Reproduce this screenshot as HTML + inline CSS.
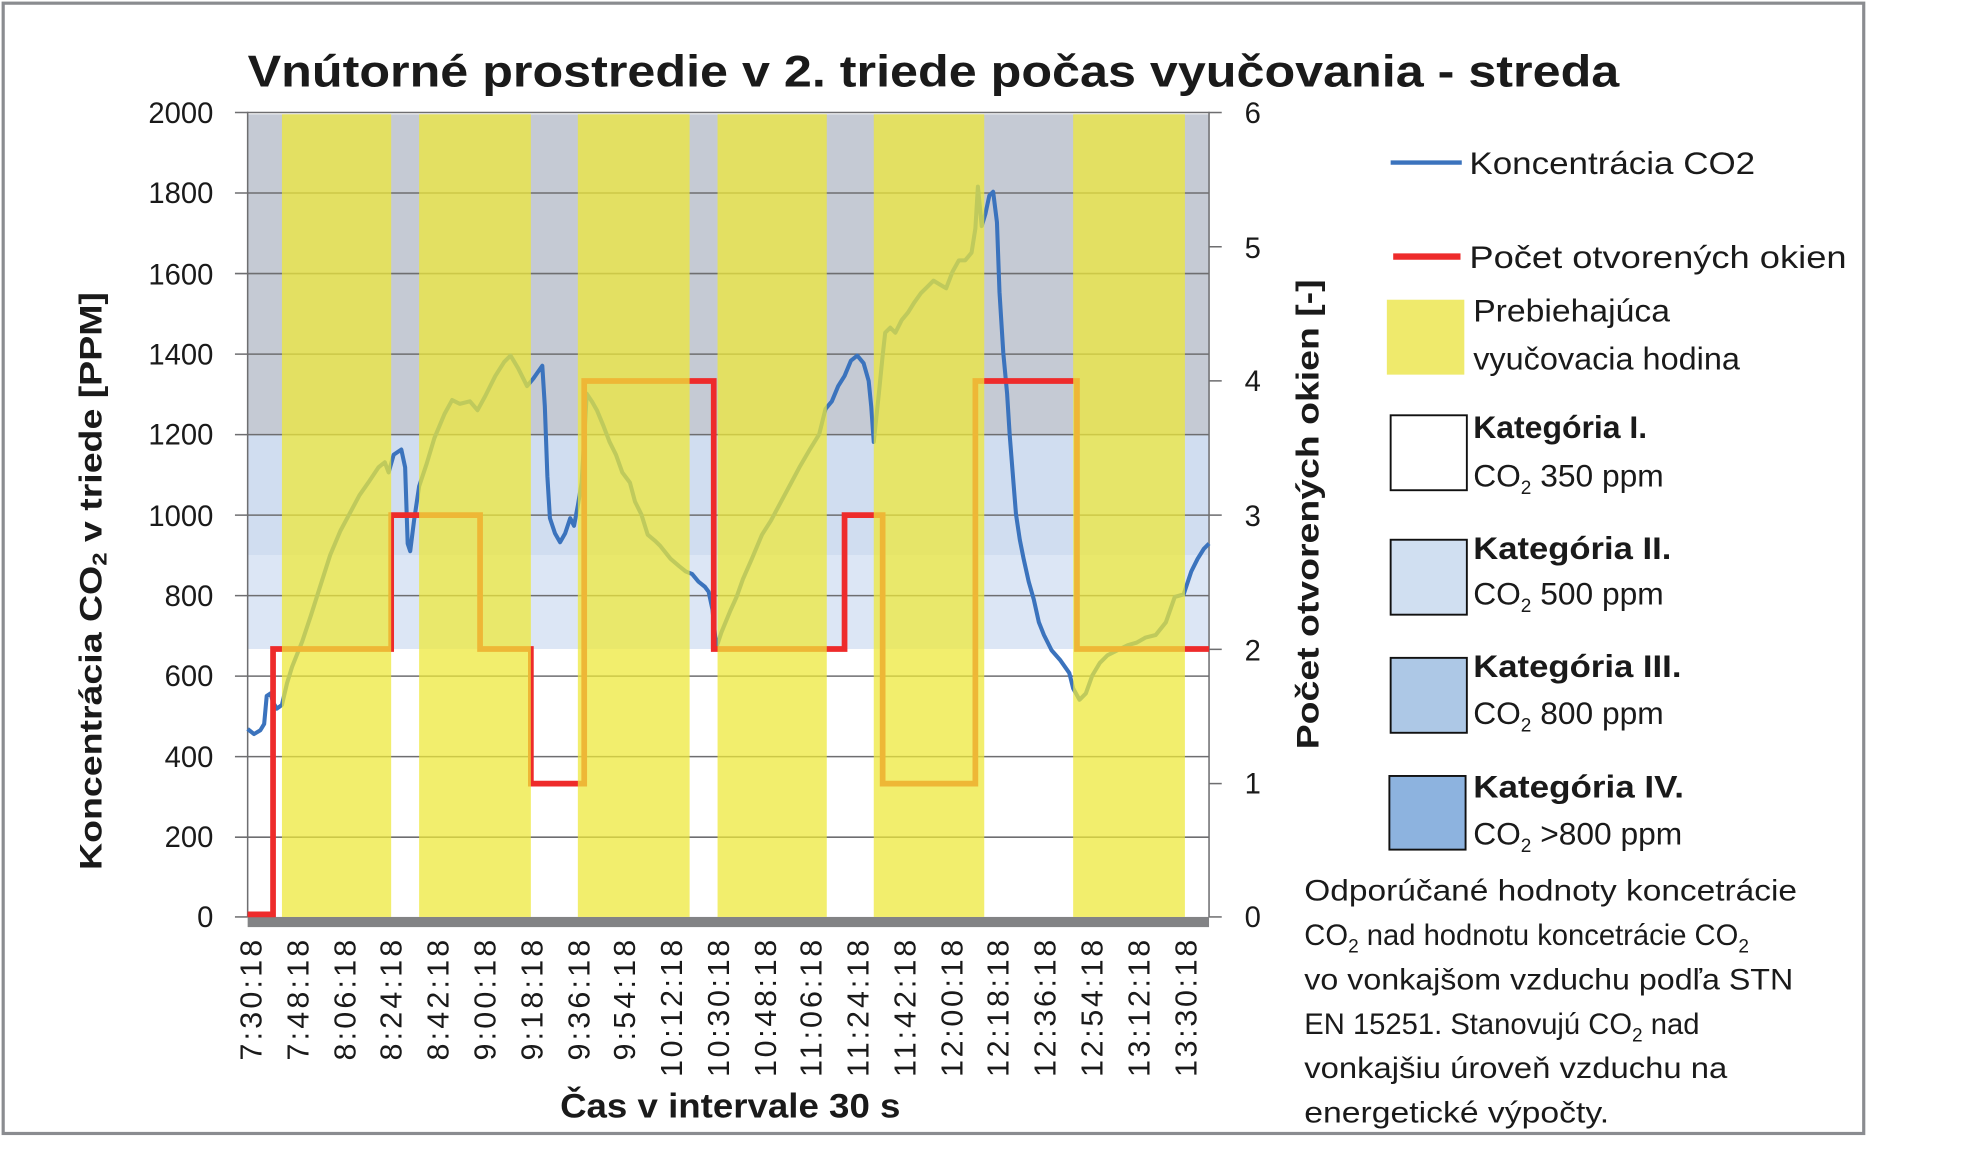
<!DOCTYPE html>
<html><head><meta charset="utf-8"><style>
html,body{margin:0;padding:0;background:#fff;}
svg{display:block;}
text{font-family:"Liberation Sans",sans-serif;fill:#1a1a1a;}
</style></head><body>
<svg width="1988" height="1163" viewBox="0 0 1565.35 915.75" xmlns="http://www.w3.org/2000/svg">
<rect x="2.5" y="2.5" width="1465" height="890" fill="#fff" stroke="#8a8c90" stroke-width="2.5"/>
<text x="735" y="68" font-size="35" font-weight="bold" text-anchor="middle" textLength="1080" lengthAdjust="spacingAndGlyphs">Vnútorné prostredie v 2. triede počas vyučovania - streda</text>
<rect x="195" y="90" width="757" height="252" fill="#c5cad4"/>
<rect x="195" y="342" width="757" height="95" fill="#d0ddf0"/>
<rect x="195" y="437" width="757" height="74" fill="#dce6f5"/>
<g stroke="#6e6e70" stroke-width="1.2">
<line x1="185" y1="88.6" x2="952" y2="88.6"/>
<line x1="185" y1="152" x2="952" y2="152"/>
<line x1="185" y1="215.4" x2="952" y2="215.4"/>
<line x1="185" y1="278.8" x2="952" y2="278.8"/>
<line x1="185" y1="342.2" x2="952" y2="342.2"/>
<line x1="185" y1="405.6" x2="952" y2="405.6"/>
<line x1="185" y1="469" x2="952" y2="469"/>
<line x1="185" y1="532.4" x2="952" y2="532.4"/>
<line x1="185" y1="595.8" x2="952" y2="595.8"/>
<line x1="185" y1="659.2" x2="952" y2="659.2"/>
<line x1="185" y1="722" x2="195" y2="722"/>
<line x1="195" y1="88" x2="195" y2="722"/>
<line x1="952" y1="88" x2="952" y2="722"/>
<line x1="952" y1="88.6" x2="962" y2="88.6"/>
<line x1="952" y1="194.3" x2="962" y2="194.3"/>
<line x1="952" y1="299.9" x2="962" y2="299.9"/>
<line x1="952" y1="405.6" x2="962" y2="405.6"/>
<line x1="952" y1="511.3" x2="962" y2="511.3"/>
<line x1="952" y1="617" x2="962" y2="617"/>
<line x1="952" y1="722" x2="962" y2="722"/>
</g>
<rect x="195" y="722" width="757" height="8" fill="#828385"/>
<polyline fill="none" stroke="#3b73bd" stroke-width="3.2" stroke-linejoin="round" points="195,574 200,578 205,575 208,570 210,548 213,546 215,553 218,558 222,555 226,538 230,525 238,505 245,484 252,462 260,437 268,418 275,405 283,390 290,380 298,368 303,364 306,372 310,358 316,354 319,368 321,428 323,434 326,410 330,383 336,365 342,345 350,326 356,315 362,318 370,316 376,323 382,312 390,296 397,285 402,280 408,290 415,304 420,298 427,288 429,320 431,375 433,408 437,420 441,427 445,420 449,408 452,414 455,398 458,380 462,310 466,316 470,323 475,335 480,348 485,358 490,372 496,380 500,395 505,405 510,421 516,426 520,430 528,440 535,446 540,450 545,452 550,458 555,462 558,466 561,480 564,510 568,498 575,481 580,470 585,456 592,440 600,421 607,410 615,395 622,382 630,367 637,355 645,342 650,322 655,316 660,304 665,296 670,284 675,280 680,286 684,300 686,320 688,348 692,310 695,280 697,262 701,258 705,262 710,252 715,246 720,238 725,231 730,226 735,221 740,224 745,227 750,214 755,205 760,205 765,199 768,180 770,147 773,178 776,168 779,154 782,151 785,175 787,230 790,278 793,310 795,342 798,380 800,405 803,425 806,440 810,458 814,472 818,490 822,500 828,512 835,520 842,530 845,542 850,551 855,546 860,532 866,522 872,516 880,512 888,508 895,506 902,502 910,500 918,490 925,470 932,468 938,450 943,440 948,432 952,428"/>
<polyline fill="none" stroke="#ee2b2b" stroke-width="4.5" stroke-linejoin="miter" points="195,720 215,720 215,511 308,511 308,405.6 378,405.6 378,511 418,511 418,617 460,617 460,300 562,300 562,511 665,511 665,405.6 695,405.6 695,617 768,617 768,300 848,300 848,511 952,511"/>
<g fill="#eee83a" fill-opacity="0.74">
<rect x="222" y="90" width="86" height="632"/>
<rect x="330" y="90" width="88" height="632"/>
<rect x="455" y="90" width="88" height="632"/>
<rect x="565" y="90" width="86" height="632"/>
<rect x="688" y="90" width="87" height="632"/>
<rect x="845" y="90" width="88" height="632"/>
</g>
<g font-size="23" text-anchor="end">
<text x="168" y="97">2000</text>
<text x="168" y="160">1800</text>
<text x="168" y="224">1600</text>
<text x="168" y="287">1400</text>
<text x="168" y="350">1200</text>
<text x="168" y="414">1000</text>
<text x="168" y="477">800</text>
<text x="168" y="540">600</text>
<text x="168" y="604">400</text>
<text x="168" y="667">200</text>
<text x="168" y="730">0</text>
</g>
<g font-size="23">
<text x="980" y="97">6</text>
<text x="980" y="203">5</text>
<text x="980" y="308">4</text>
<text x="980" y="414">3</text>
<text x="980" y="520">2</text>
<text x="980" y="625">1</text>
<text x="980" y="730">0</text>
</g>
<g font-size="24" text-anchor="end" lengthAdjust="spacingAndGlyphs">
<text transform="translate(206,740) rotate(-90)" textLength="95">7:30:18</text>
<text transform="translate(243,740) rotate(-90)" textLength="95">7:48:18</text>
<text transform="translate(280,740) rotate(-90)" textLength="95">8:06:18</text>
<text transform="translate(316,740) rotate(-90)" textLength="95">8:24:18</text>
<text transform="translate(353,740) rotate(-90)" textLength="95">8:42:18</text>
<text transform="translate(390,740) rotate(-90)" textLength="95">9:00:18</text>
<text transform="translate(427,740) rotate(-90)" textLength="95">9:18:18</text>
<text transform="translate(464,740) rotate(-90)" textLength="95">9:36:18</text>
<text transform="translate(500,740) rotate(-90)" textLength="95">9:54:18</text>
<text transform="translate(537,740) rotate(-90)" textLength="108">10:12:18</text>
<text transform="translate(574,740) rotate(-90)" textLength="108">10:30:18</text>
<text transform="translate(611,740) rotate(-90)" textLength="108">10:48:18</text>
<text transform="translate(647,740) rotate(-90)" textLength="108">11:06:18</text>
<text transform="translate(684,740) rotate(-90)" textLength="108">11:24:18</text>
<text transform="translate(721,740) rotate(-90)" textLength="108">11:42:18</text>
<text transform="translate(758,740) rotate(-90)" textLength="108">12:00:18</text>
<text transform="translate(794,740) rotate(-90)" textLength="108">12:18:18</text>
<text transform="translate(831,740) rotate(-90)" textLength="108">12:36:18</text>
<text transform="translate(868,740) rotate(-90)" textLength="108">12:54:18</text>
<text transform="translate(905,740) rotate(-90)" textLength="108">13:12:18</text>
<text transform="translate(942,740) rotate(-90)" textLength="108">13:30:18</text>
</g>
<text x="575" y="880" font-size="27" font-weight="bold" text-anchor="middle" textLength="268" lengthAdjust="spacingAndGlyphs">Čas v intervale 30 s</text>
<text transform="translate(80,685) rotate(-90)" font-size="25" font-weight="bold" textLength="455" lengthAdjust="spacingAndGlyphs">Koncentrácia CO<tspan font-size="16" dy="4">2</tspan><tspan dy="-4"> v triede [PPM]</tspan></text>
<text transform="translate(1038,590) rotate(-90)" font-size="25" font-weight="bold" textLength="370" lengthAdjust="spacingAndGlyphs">Počet otvorených okien [-]</text>
<line x1="1095" y1="128" x2="1151" y2="128" stroke="#3b73bd" stroke-width="3.5"/>
<text x="1157" y="137" font-size="25" textLength="225" lengthAdjust="spacingAndGlyphs">Koncentrácia CO2</text>
<line x1="1097" y1="202" x2="1150" y2="202" stroke="#ee2b2b" stroke-width="5"/>
<text x="1157" y="211" font-size="25" textLength="297" lengthAdjust="spacingAndGlyphs">Počet otvorených okien</text>
<rect x="1092" y="236" width="61" height="59" fill="#efea6c"/>
<text x="1160" y="253" font-size="25" textLength="155" lengthAdjust="spacingAndGlyphs">Prebiehajúca</text>
<text x="1160" y="291" font-size="25" textLength="210" lengthAdjust="spacingAndGlyphs">vyučovacia hodina</text>
<g stroke="#111" stroke-width="1.5">
<rect x="1095" y="327" width="60" height="59" fill="#fff"/>
<rect x="1095" y="425" width="60" height="59" fill="#d0dff1"/>
<rect x="1095" y="518" width="60" height="59" fill="#adc8e6"/>
<rect x="1094" y="611" width="60" height="58" fill="#8db3df"/>
</g>
<g font-size="25">
<text x="1160" y="345" font-weight="bold" textLength="137" lengthAdjust="spacingAndGlyphs">Kategória I.</text>
<text x="1160" y="383">CO<tspan font-size="15" dy="6">2</tspan><tspan dy="-6"> 350 ppm</tspan></text>
<text x="1160" y="440" font-weight="bold" textLength="156" lengthAdjust="spacingAndGlyphs">Kategória II.</text>
<text x="1160" y="476">CO<tspan font-size="15" dy="6">2</tspan><tspan dy="-6"> 500 ppm</tspan></text>
<text x="1160" y="533" font-weight="bold" textLength="164" lengthAdjust="spacingAndGlyphs">Kategória III.</text>
<text x="1160" y="570">CO<tspan font-size="15" dy="6">2</tspan><tspan dy="-6"> 800 ppm</tspan></text>
<text x="1160" y="628" font-weight="bold" textLength="166" lengthAdjust="spacingAndGlyphs">Kategória IV.</text>
<text x="1160" y="665">CO<tspan font-size="15" dy="6">2</tspan><tspan dy="-6"> &gt;800 ppm</tspan></text>
</g>
<g font-size="23">
<text x="1027" y="709" textLength="388" lengthAdjust="spacingAndGlyphs">Odporúčané hodnoty koncetrácie</text>
<text x="1027" y="744">CO<tspan font-size="15" dy="6">2</tspan><tspan dy="-6"> nad hodnotu koncetrácie CO</tspan><tspan font-size="15" dy="6">2</tspan></text>
<text x="1027" y="779" textLength="385" lengthAdjust="spacingAndGlyphs">vo vonkajšom vzduchu podľa STN</text>
<text x="1027" y="814">EN 15251. Stanovujú CO<tspan font-size="15" dy="6">2</tspan><tspan dy="-6"> nad</tspan></text>
<text x="1027" y="849" textLength="333" lengthAdjust="spacingAndGlyphs">vonkajšiu úroveň vzduchu na</text>
<text x="1027" y="884" textLength="240" lengthAdjust="spacingAndGlyphs">energetické výpočty.</text>
</g>
</svg>
</body></html>
